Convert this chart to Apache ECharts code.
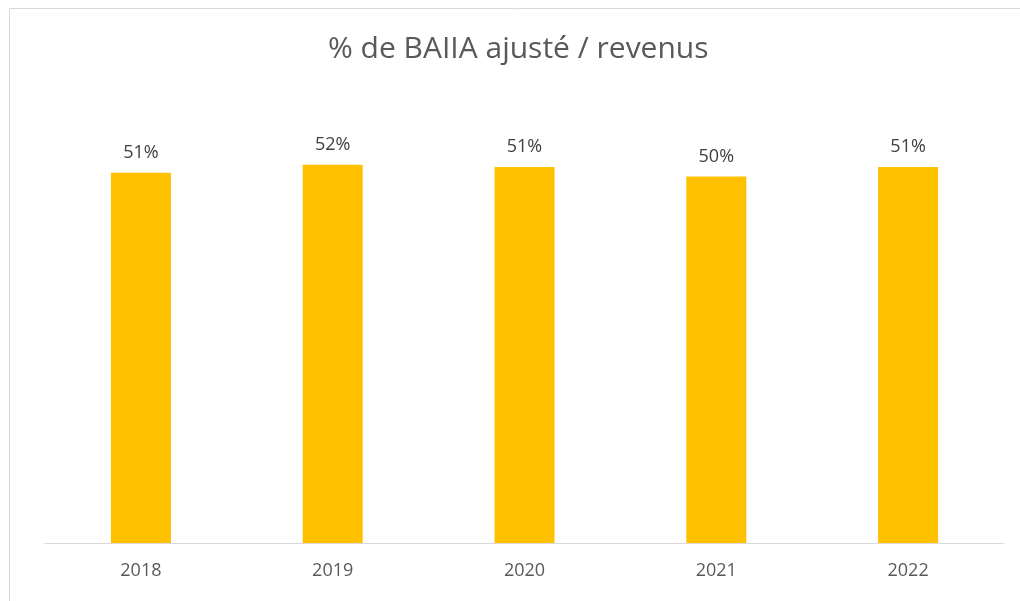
<!DOCTYPE html>
<html>
<head>
<meta charset="utf-8">
<script src="https://cdn.jsdelivr.net/npm/echarts@6/dist/echarts.min.js"></script>
<style>
  html, body { margin: 0; padding: 0; background: #fff; }
  #chart { width: 1020px; height: 601px; }
</style>
</head>
<body>
<div id="chart"></div>
<script>
const years = ['2018', '2019', '2020', '2021', '2022'];
const margins = [0.506, 0.517, 0.514, 0.501, 0.514];
const titleText = '% de BAIIA ajusté / revenus';

const chart = echarts.init(document.getElementById('chart'));

const font = '"Open Sans", Lato, sans-serif';

chart.setOption({
  animation: false,
  backgroundColor: '#fff',
  title: {
    text: titleText,
    left: 323,
    top: 29,
    textStyle: { fontFamily: font, fontSize: 30, fontWeight: 'normal', color: '#595959' }
  },
  graphic: [{
    type: 'rect',
    shape: { x: 9.5, y: 8.5, width: 1030, height: 620 },
    style: { fill: 'none', stroke: '#d9d9d9', lineWidth: 1 },
    silent: true
  }],
  grid: { left: 45, right: 16, top: 104, bottom: 58 },
  xAxis: {
    type: 'category',
    data: years,
    axisLine: { lineStyle: { color: '#d9d9d9', width: 1 } },
    axisTick: { show: false },
    axisLabel: { fontFamily: font, fontSize: 18, color: '#595959', margin: 19 }
  },
  yAxis: {
    type: 'value',
    min: 0,
    max: 0.6,
    show: false,
    splitLine: { show: false }
  },
  series: [{
    type: 'bar',
    data: margins,
    barWidth: 60,
    itemStyle: { color: '#ffc000' },
    label: {
      show: true,
      position: 'top',
      distance: 11,
      fontFamily: font,
      fontSize: 18,
      color: '#404040',
      formatter: p => Math.round(p.value * 100) + '%'
    }
  }]
});
</script>
</body>
</html>
